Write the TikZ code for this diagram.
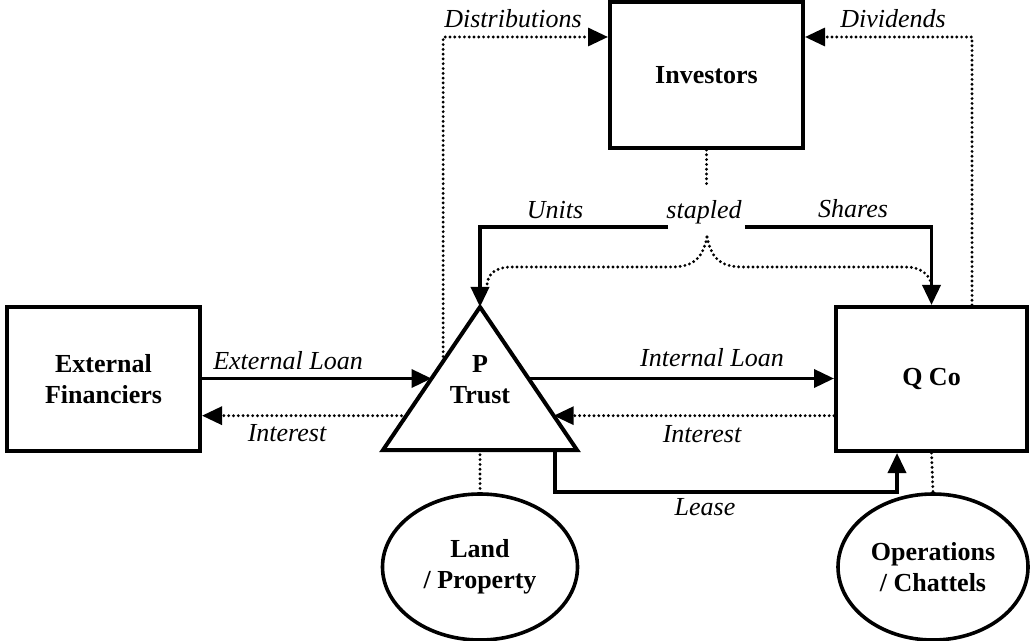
\documentclass[tikz,border=0pt]{standalone}
\usepackage{fontspec}
\setmainfont{Liberation Serif}
\usetikzlibrary{arrows.meta,shapes.geometric,calc}

\begin{document}
\begin{tikzpicture}[x=0.5pt,y=-0.5pt,
box/.style={draw,line width=2pt,minimum width=96.5pt,minimum height=72pt,font=\bfseries,align=center},
blob/.style={draw,ellipse,line width=1.8pt,minimum height=73pt,font=\bfseries,align=center,inner sep=0pt},
flow/.style={line width=1.8pt,-{Triangle[length=10pt,width=9pt]}},
link/.style={line width=1.6pt,line cap=round,dash pattern=on 0pt off 2.4pt},
back/.style={link,-{Triangle[length=10pt,width=9pt]}},
lbl/.style={font=\itshape,anchor=base,inner sep=0pt}
]
\useasboundingbox (0,0) rectangle (1032,641);
\fontsize{13}{15.5}\selectfont

% The boxes
\node[box,minimum width=96.5pt,minimum height=73pt] (inv) at (706.5,75) {Investors};
\node[box] (ext) at (103.5,379) {External\\Financiers};
\node[box,minimum width=95.5pt] (qco) at (931.5,379) {Q Co};
\node[blob,minimum width=97.5pt] (land) at (480,567) {Land\\/ Property};
\node[blob,minimum width=95pt] (ops) at (933,567) {Operations\\/ Chattels};

% The trust
\coordinate (tl) at (383,450);
\coordinate (tr) at (577,450);
\coordinate (apex) at (480,307);
\draw[line width=2pt] (tl) -- (apex) -- (tr) -- cycle;
\node[font=\bfseries,align=center] (trust) at (480,380) {P\\Trust};

% Points on the trust
\coordinate (dfrom) at ($(tl)!0.62!(apex)$);
\coordinate (elin) at ($(tl)!0.5!(apex)$);
\coordinate (ilout) at ($(tl)!0.24!(apex)$);
\coordinate (inout) at ($(tr)!0.5!(apex)$);
\coordinate (irin) at ($(tr)!0.24!(apex)$);
\coordinate (tbase) at ($(tl)!0.5!(tr)$);
\coordinate (lout) at ($(tl)!0.887!(tr)$);
\coordinate (rail) at (0,37);
\coordinate (divfrom) at ($(qco.north)+(40.5,0)$);
\coordinate (lin) at ($(qco.south)+(-34.5,0)$);
\coordinate (stp) at (707,237);

% The labels
\node[lbl] (distlbl) at (513,28) {Distributions};
\node[lbl] (divlbl) at (893,28) {Dividends};
\node[lbl] (unitlbl) at (555,219) {Units};
\node[lbl] (stapled) at (704,219) {stapled};
\node[lbl] (sharelbl) at (853,218) {Shares};
\node[lbl] (elbl) at (288,370) {External Loan};
\node[lbl] (ilbl) at (287,441) {Interest};
\node[lbl] (inlbl) at (712,366) {Internal Loan};
\node[lbl] (irlbl) at (702,442) {Interest};
\node[lbl] (leaselbl) at (705,515) {Lease};

% The flows
\draw[flow] (ext.east |- elin) -- (elin);
\draw[back] (ilout) -- (ext.east |- ilout);
\draw[flow] (inout) -- (qco.west |- inout);
\draw[back] (qco.west |- irin) -- (irin);
\draw[flow] (lout) -- ++(0,42) -| (lin);
\draw[back] (dfrom) |- (inv.west |- rail);
\draw[back] (divfrom) |- (inv.east |- rail);
\draw[flow] ($(stapled.base west)+(2,8)$) -| (apex);
\draw[flow] ($(stapled.base east)+(3,8)$) -| (qco.north);

% The links
\draw[link] (inv.south) -- ++(0,38);
\draw[link] (tbase) -- (land.north);
\draw[link] (qco.south) -- (ops.north);
\draw[link] (stp) .. controls (702,262) and (690,267) .. (670,267) -- (512,267) .. controls (495,267) and (488,274) .. (487,285);
\draw[link] (stp) .. controls (712,262) and (724,267) .. (744,267) -- (905,267) .. controls (925,267) and (931,278) .. (932,288);
\end{tikzpicture}
\end{document}
